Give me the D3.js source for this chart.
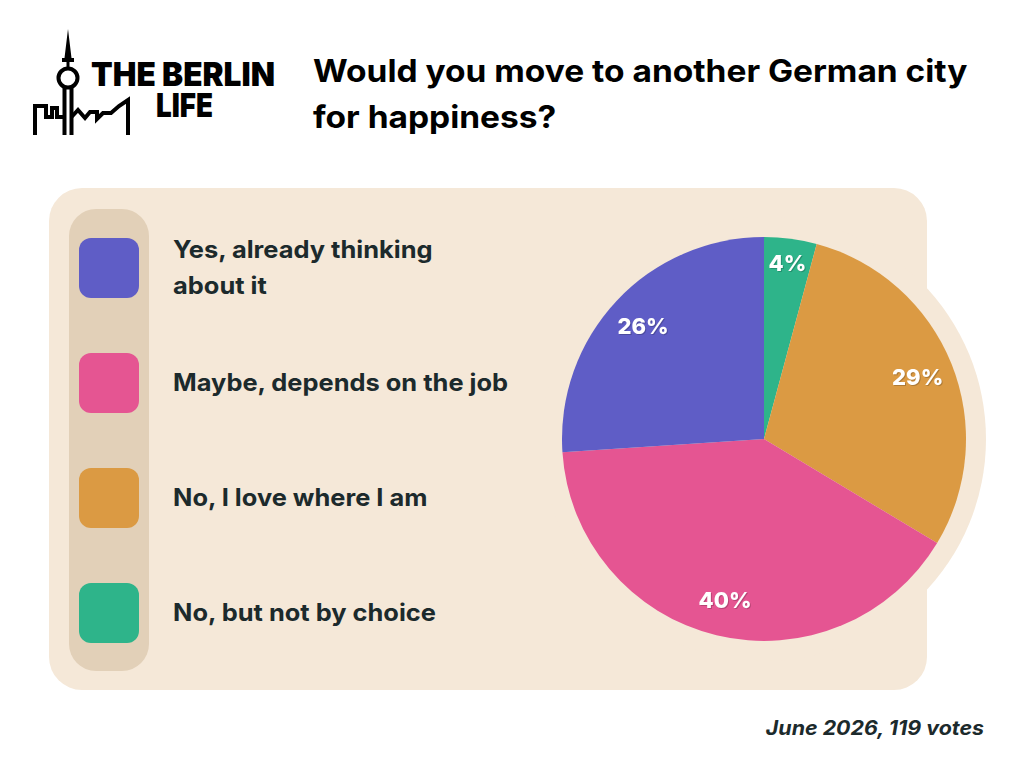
<!DOCTYPE html>
<html>
<head>
<meta charset="utf-8">
<script src="https://cdn.jsdelivr.net/npm/d3@7"></script>
<style>
  body { margin: 0; background: #fff; }
  svg { display: block; }
</style>
</head>
<body>
<svg id="chart"></svg>
<script>
// poll answers, in legend order
const categories = [
  "Yes, already thinking\nabout it",
  "Maybe, depends on the job",
  "No, I love where I am",
  "No, but not by choice"
];
const votes = [31, 48, 35, 5];
const colors = ["#5f5dc6", "#e55592", "#db9a43", "#2eb48a"];
const title = ["Would you move to another German city", "for happiness?"];
const footnote = "June 2026, 119 votes";

const width = 1024, height = 768;
const svg = d3.select("#chart")
  .attr("width", width)
  .attr("height", height)
  .attr("viewBox", [0, 0, width, height]);

const font = "Inter, 'Open Sans', sans-serif";
const data = categories.map((c, i) => ({label: c, value: votes[i], color: colors[i]}));
const total = d3.sum(votes);

// logo: tower + skyline
const logo = svg.append("g")
  .attr("fill", "none")
  .attr("stroke", "#000")
  .attr("stroke-width", 4);
logo.append("path")
  .attr("fill", "#000")
  .attr("stroke", "none")
  .attr("d", "M68,29 L71.5,58 L64.5,58 Z M62,58 H74 V62 H62 Z M66.5,62 H69.5 V67 H66.5 Z");
logo.append("circle").attr("cx", 68).attr("cy", 78).attr("r", 9.5);
logo.append("path").attr("d", "M64.5,88 V135 M71.5,88 V135");
logo.append("path")
  .attr("stroke-linejoin", "miter")
  .attr("d", "M35,135 V106 H46 V117 H52 V108 H57 V117 H64.5 M71.5,117 L78,110 L85,118 L90,112 H97 V119 L103,113 H111 L119,106 L128,100 V135");
svg.append("text")
  .attr("x", 91).attr("y", 86)
  .attr("textLength", 184).attr("lengthAdjust", "spacingAndGlyphs")
  .attr("font-family", font).attr("font-weight", 900).attr("font-size", 33)
  .text("THE BERLIN");
svg.append("text")
  .attr("x", 156).attr("y", 117)
  .attr("textLength", 57).attr("lengthAdjust", "spacingAndGlyphs")
  .attr("font-family", font).attr("font-weight", 900).attr("font-size", 33)
  .text("LIFE");

// title (the reference face is wider than Inter, so stretch a little)
svg.append("g")
  .attr("transform", "translate(313,0) scale(1.08,1)")
  .selectAll("text")
  .data(title)
  .join("text")
  .attr("x", 0)
  .attr("y", (d, i) => 82 + i * 46)
  .attr("font-family", font)
  .attr("font-weight", 700)
  .attr("font-size", 31)
  .attr("fill", "#000")
  .text(d => d);

// panel
const cx = 764, cy = 439, r = 202;
svg.append("rect")
  .attr("x", 49).attr("y", 188)
  .attr("width", 878).attr("height", 502)
  .attr("rx", 33)
  .attr("fill", "#f5e8d8");
svg.append("circle")
  .attr("cx", cx).attr("cy", cy).attr("r", r + 20)
  .attr("fill", "#f5e8d8");

// legend
svg.append("rect")
  .attr("x", 69).attr("y", 209)
  .attr("width", 80).attr("height", 462)
  .attr("rx", 27)
  .attr("fill", "#e2d0b8");

const y = d3.scalePoint()
  .domain(categories)
  .range([268, 613]);

const item = svg.append("g").selectAll("g")
  .data(data)
  .join("g")
  .attr("transform", d => `translate(0,${y(d.label)})`);

item.append("rect")
  .attr("x", 79).attr("y", -30)
  .attr("width", 60).attr("height", 60)
  .attr("rx", 12)
  .attr("fill", d => d.color);

item.append("text")
  .attr("transform", "translate(173,0) scale(1.06,1)")
  .attr("font-family", font)
  .attr("font-weight", 700)
  .attr("font-size", 24)
  .attr("fill", "#1c2a2c")
  .selectAll("tspan")
  .data(d => {
    const lines = d.label.split("\n");
    return lines.map((t, i) => ({t, i, n: lines.length}));
  })
  .join("tspan")
  .attr("x", 0)
  .attr("y", d => 8 - (d.n - 1) * 18.5 + d.i * 37)
  .text(d => d.t);

// pie, drawn clockwise from the top starting with the last answer
const pie = d3.pie().sort(null).value(d => d.value);
const arcs = pie(data.slice().reverse());
const arc = d3.arc().innerRadius(0).outerRadius(r);

const g = svg.append("g").attr("transform", `translate(${cx},${cy})`);
g.selectAll("path")
  .data(arcs)
  .join("path")
  .attr("d", arc)
  .attr("fill", d => d.data.color);

g.selectAll("text")
  .data(arcs)
  .join("text")
  .attr("transform", d => {
    const k = d.data.value / total < 0.1 ? 0.88 : 0.82;
    const a = (d.startAngle + d.endAngle) / 2;
    return `translate(${Math.sin(a) * r * k},${-Math.cos(a) * r * k})`;
  })
  .attr("text-anchor", "middle")
  .attr("dy", "0.36em")
  .attr("font-family", font)
  .attr("font-weight", 800)
  .attr("font-size", 22)
  .attr("fill", "#fff")
  .style("filter", "drop-shadow(1px 1px 0 rgba(0,0,0,0.2))")
  .text(d => Math.round(d.data.value / total * 100) + "%");

// footnote
svg.append("text")
  .attr("transform", "translate(984,735) scale(1.07,1)")
  .attr("text-anchor", "end")
  .attr("font-family", font)
  .attr("font-weight", 700)
  .attr("font-style", "italic")
  .attr("font-size", 20)
  .attr("fill", "#1c2a2c")
  .text(footnote);
</script>
</body>
</html>
